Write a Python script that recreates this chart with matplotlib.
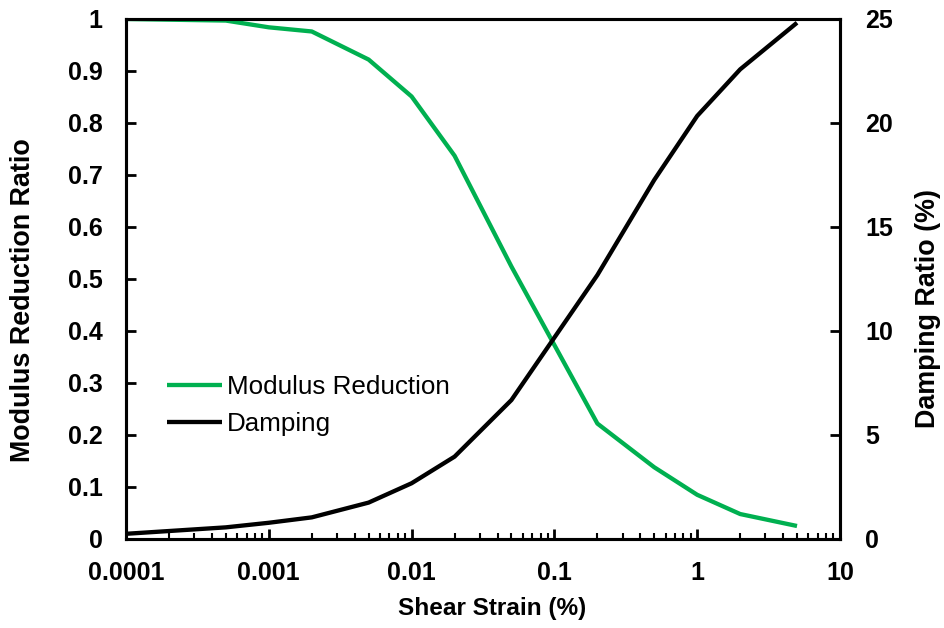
import matplotlib
matplotlib.use("Agg")
import matplotlib.pyplot as plt
from matplotlib.ticker import LogLocator, NullFormatter

plt.rcParams['font.family'] = ['Liberation Sans', 'DejaVu Sans']

# Data
strain = [0.0001, 0.0005, 0.001, 0.002, 0.005, 0.01, 0.02, 0.05, 0.2, 0.5, 1, 2, 5]
modulus_reduction = [1.0, 0.997, 0.984, 0.976, 0.922, 0.851, 0.737, 0.524, 0.222, 0.138, 0.085, 0.048, 0.025]
damping = [0.25, 0.56, 0.78, 1.04, 1.75, 2.68, 3.96, 6.68, 12.69, 17.26, 20.34, 22.58, 24.82]

x_ticks = [0.0001, 0.001, 0.01, 0.1, 1, 10]
x_ticklabels = ["0.0001", "0.001", "0.01", "0.1", "1", "10"]
left_ticks = [0, 0.1, 0.2, 0.3, 0.4, 0.5, 0.6, 0.7, 0.8, 0.9, 1]
left_ticklabels = ["0", "0.1", "0.2", "0.3", "0.4", "0.5", "0.6", "0.7", "0.8", "0.9", "1"]
right_ticks = [0, 5, 10, 15, 20, 25]
right_ticklabels = ["0", "5", "10", "15", "20", "25"]

GREEN = "#00B050"
TICK_FS = 18
XLABEL_FS = 17.6
YLABEL_FS = 19.4
LEG_FS = 18.7
SPINE_LW = 2.2

W, H = 945, 628
fig = plt.figure(figsize=(W / 100, H / 100), dpi=100)
ax = fig.add_axes([126 / W, 1 - 539 / H, 714 / W, 520 / H])
ax2 = ax.twinx()

l1, = ax.plot(strain, modulus_reduction, color=GREEN, lw=3.1, solid_capstyle='butt',
              label="Modulus Reduction", zorder=3)
l2, = ax2.plot(strain, damping, color="black", lw=3.1, solid_capstyle='butt',
               label="Damping", zorder=3)

ax.set_xscale('log')
ax.set_xlim(0.0001, 10)
ax.set_ylim(0, 1)
ax2.set_ylim(0, 25)

ax.set_xticks(x_ticks)
ax.set_xticklabels(x_ticklabels, fontsize=TICK_FS, fontweight='bold')
ax.xaxis.set_minor_locator(LogLocator(base=10, subs=range(2, 10)))
ax.xaxis.set_minor_formatter(NullFormatter())

ax.set_yticks(left_ticks)
ax.set_yticklabels(left_ticklabels, fontsize=TICK_FS, fontweight='bold')
ax2.set_yticks(right_ticks)
ax2.set_yticklabels(right_ticklabels, fontsize=TICK_FS, fontweight='bold')

ax.tick_params(axis='x', which='major', direction='in', length=7, width=2, pad=16)
ax.tick_params(axis='x', which='minor', direction='in', length=4, width=1.5)
ax.tick_params(axis='y', which='major', direction='in', length=7, width=2, pad=17)
ax2.tick_params(axis='y', which='major', direction='in', length=7, width=2, pad=18)
ax.tick_params(top=False, right=False)

for a in (ax, ax2):
    for s in a.spines.values():
        s.set_linewidth(SPINE_LW)
        s.set_color('black')

fig.text(492.5 / W, 1 - 609 / H, "Shear Strain (%)", fontsize=XLABEL_FS,
         fontweight='bold', ha='center', va='center')
fig.text(23 / W, 1 - 300 / H, "Modulus Reduction Ratio", fontsize=YLABEL_FS,
         fontweight='bold', ha='center', va='center', rotation=90)
fig.text(928 / W, 1 - 308 / H, "Damping Ratio (%)", fontsize=YLABEL_FS,
         fontweight='bold', ha='center', va='center', rotation=90)

leg = ax.legend(handles=[l1, l2], loc='center left',
                bbox_to_anchor=((157 - 126) / 714, (539 - 405.5) / 520),
                frameon=False, fontsize=LEG_FS, handlelength=2.1, handletextpad=0.2,
                labelspacing=0.48, borderaxespad=0, borderpad=0.4)

fig.savefig("out.png", dpi=100)
